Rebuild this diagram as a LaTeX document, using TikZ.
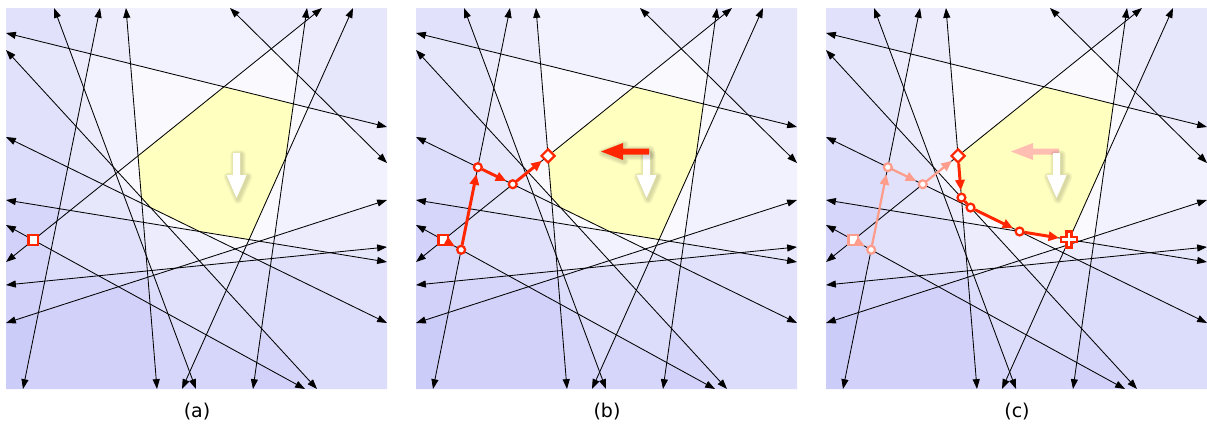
\documentclass[tikz,border=0pt]{standalone}
\usepackage{fontspec}
\newfontfamily\panelfont{DejaVu Sans}
\usetikzlibrary{arrows.meta,calc,shapes.geometric}

\definecolor{cellblue}{rgb}{0.1,0.1,0.9}
\definecolor{feasible}{RGB}{255,255,192}
\definecolor{pathred}{RGB}{255,38,0}
\colorlet{fadedred}{pathred!45!white}

\tikzset{
  constraint/.style={line width=0.6pt, {Triangle[length=7pt,width=5pt]}-{Triangle[length=7pt,width=5pt]}},
  cell/.style={fill=cellblue, fill opacity=0.028},
  walk/.style={draw=pathred, line width=2.1pt, -{Triangle[length=7.5pt,width=6.5pt]}, shorten >=1.5pt},
  walkvertex/.style={circle, draw=pathred, fill=white, line width=1.6pt, inner sep=0pt, minimum size=5.6pt},
  startbox/.style={rectangle, draw=pathred, fill=white, line width=1.6pt, inner sep=0pt, minimum size=7pt},
  apex/.style={diamond, draw=pathred, fill=white, line width=1.6pt, inner sep=0pt, minimum size=10pt},
  plusmark/.style={draw=pathred, fill=white, line width=1.6pt},
  faded/.style={draw=fadedred},
  panellabel/.style={font=\panelfont\fontsize{13.5}{16}\selectfont},
  shadowed/.style={black, opacity=0.05, line join=round, shift={(1.5,1.5)}},
  pics/descent/.style={code={
    \foreach \w in {6,4,2}
      \draw[shadowed, line width=\w pt] (227,145) -- (234,145) -- (234,167) -- (240.5,167)
        -- (230.5,190) -- (220.5,167) -- (227,167) -- cycle;
    \fill[white] (227,145) -- (234,145) -- (234,167) -- (240.5,167)
      -- (230.5,190) -- (220.5,167) -- (227,167) -- cycle;
  }},
  pics/pivot/.style={code={
    \foreach \w in {6,4,2}
      \draw[shadowed, line width=\w pt] (233,140.5) -- (233,146.5) -- (207,146.5) -- (207,152)
        -- (185,143.5) -- (207,135) -- (207,140.5) -- cycle;
    \fill[pathred] (233,140.5) -- (233,146.5) -- (207,146.5) -- (207,152)
      -- (185,143.5) -- (207,135) -- (207,140.5) -- cycle;
  }},
  pics/oldpivot/.style={code={
    \fill[pathred!30!white] (233,140.5) -- (233,146.5) -- (207,146.5) -- (207,152)
      -- (185,143.5) -- (207,135) -- (207,140.5) -- cycle;
  }},
}

% the line arrangement of one panel, in pixel units of a 381 x 381 box
\newcommand\arrangement{%
  \coordinate (a1) at (48,0);    \coordinate (b1) at (190,381);
  \coordinate (a2) at (94,0);    \coordinate (b2) at (17,381);
  \coordinate (a3) at (120,0);   \coordinate (b3) at (151,381);
  \coordinate (a4) at (224,0);   \coordinate (b4) at (381,155);
  \coordinate (a5) at (301,0);   \coordinate (b5) at (247,381);
  \coordinate (a6) at (316,0);   \coordinate (b6) at (0,254);
  \coordinate (a7) at (347,0);   \coordinate (b7) at (176,381);
  \coordinate (a8) at (0,25);    \coordinate (b8) at (381,119);
  \coordinate (a9) at (0,42);    \coordinate (b9) at (311,381);
  \coordinate (a10) at (0,129);  \coordinate (b10) at (381,315);
  \coordinate (a11) at (0,192);  \coordinate (b11) at (381,254);
  \coordinate (a12) at (0,315);  \coordinate (b12) at (381,192);
  \coordinate (a13) at (0,277);  \coordinate (b13) at (381,239);
  \coordinate (a14) at (0,217);  \coordinate (b14) at (299,381);
  % violated sides, darker where more constraints fail
  \fill[cell] (a1) -- (0,0) -- (0,381) -- (b1) -- cycle;
  \fill[cell] (a2) -- (0,0) -- (0,381) -- (b2) -- cycle;
  \fill[cell] (a3) -- (0,0) -- (0,381) -- (b3) -- cycle;
  \fill[cell] (a4) -- (381,0) -- (b4) -- cycle;
  \fill[cell] (a5) -- (381,0) -- (381,381) -- (b5) -- cycle;
  \fill[cell] (a6) -- (0,0) -- (b6) -- cycle;
  \fill[cell] (a7) -- (381,0) -- (381,381) -- (b7) -- cycle;
  \fill[cell] (a8) -- (0,0) -- (381,0) -- (b8) -- cycle;
  \fill[cell] (a9) -- (0,381) -- (b9) -- cycle;
  \foreach \i in {10,...,13}
    \fill[cell] (a\i) -- (0,381) -- (381,381) -- (b\i) -- cycle;
  \fill[cell] (a14) -- (0,381) -- (b14) -- cycle;
  % feasible region
  \coordinate (v1) at (intersection of a6--b6 and a3--b3);
  \coordinate (v2) at (intersection of a6--b6 and a8--b8);
  \coordinate (v3) at (intersection of a8--b8 and a5--b5);
  \coordinate (v4) at (intersection of a5--b5 and a7--b7);
  \coordinate (v5) at (intersection of a7--b7 and a11--b11);
  \coordinate (v6) at (intersection of a11--b11 and a10--b10);
  \coordinate (v7) at (intersection of a10--b10 and a9--b9);
  \coordinate (v8) at (intersection of a9--b9 and a3--b3);
  \fill[feasible] (v1) -- (v2) -- (v3) -- (v4) -- (v5) -- (v6) -- (v7) -- (v8) -- cycle;
  \coordinate (s) at (intersection of a6--b6 and a14--b14);
  \foreach \i in {1,...,14}
    \draw[constraint] (a\i) -- (b\i);
}

\begin{document}
\begin{tikzpicture}[x=0.025cm, y=-0.025cm]
  \useasboundingbox (0,0) rectangle (1207,428);

  \foreach \p/\ox in {pa/6, pb/416, pc/826} {
    \begin{scope}[shift={(\ox,8)}, name prefix=\p-]
      \arrangement
    \end{scope}
  }

  % (a)
  \begin{scope}[shift={(6,8)}, name prefix=pa-]
    \pic {descent};
    \node[startbox] (s0) at (s) {};
  \end{scope}

  % (b)
  \begin{scope}[shift={(416,8)}, name prefix=pb-]
    \pic {descent};
    \pic {pivot};
    \node[startbox] (s0) at (s) {};
    \node[walkvertex] (w1) at (intersection of a14--b14 and a2--b2) {};
    \node[walkvertex] (w2) at (intersection of a2--b2 and a10--b10) {};
    \node[walkvertex] (w3) at (intersection of a10--b10 and a6--b6) {};
    \node[apex] (d) at (v1) {};
    \draw[walk] (s0) -- (w1);
    \draw[walk] (w1) -- (w2);
    \draw[walk] (w2) -- (w3);
    \draw[walk] (w3) -- (d);
  \end{scope}

  % (c)
  \begin{scope}[shift={(826,8)}, name prefix=pc-]
    \pic {oldpivot};
    \pic {descent};
    \node[startbox, faded] (s0) at (s) {};
    \node[walkvertex, faded] (w1) at (intersection of a14--b14 and a2--b2) {};
    \node[walkvertex, faded] (w2) at (intersection of a2--b2 and a10--b10) {};
    \node[walkvertex, faded] (w3) at (intersection of a10--b10 and a6--b6) {};
    \node[apex] (d) at (v1) {};
    \draw[walk, faded, line width=1.6pt] (s0) -- (w1);
    \draw[walk, faded, line width=1.6pt] (w1) -- (w2);
    \draw[walk, faded, line width=1.6pt] (w2) -- (w3);
    \draw[walk, faded, line width=1.6pt] (w3) -- (d);
    \node[walkvertex] (e1) at (v8) {};
    \node[walkvertex] (e2) at (v7) {};
    \node[walkvertex] (e3) at (v6) {};
    \node[circle, inner sep=0pt, minimum size=11pt] (opt) at (v5) {};
    \draw[plusmark] ($(opt)+(-2.5,-8)$) -- ++(5,0) -- ++(0,5.5) -- ++(5.5,0) -- ++(0,5)
      -- ++(-5.5,0) -- ++(0,5.5) -- ++(-5,0) -- ++(0,-5.5) -- ++(-5.5,0) -- ++(0,-5)
      -- ++(5.5,0) -- cycle;
    \draw[walk] (d) -- (e1);
    \draw[walk, -, shorten >=0pt] (e1) -- (e2);
    \draw[walk] (e2) -- (e3);
    \draw[walk] (e3) -- (opt);
  \end{scope}

  \node[panellabel] (la) at (197,412) {(a)};
  \node[panellabel] (lb) at (607,412) {(b)};
  \node[panellabel] (lc) at (1017,412) {(c)};
\end{tikzpicture}
\end{document}
